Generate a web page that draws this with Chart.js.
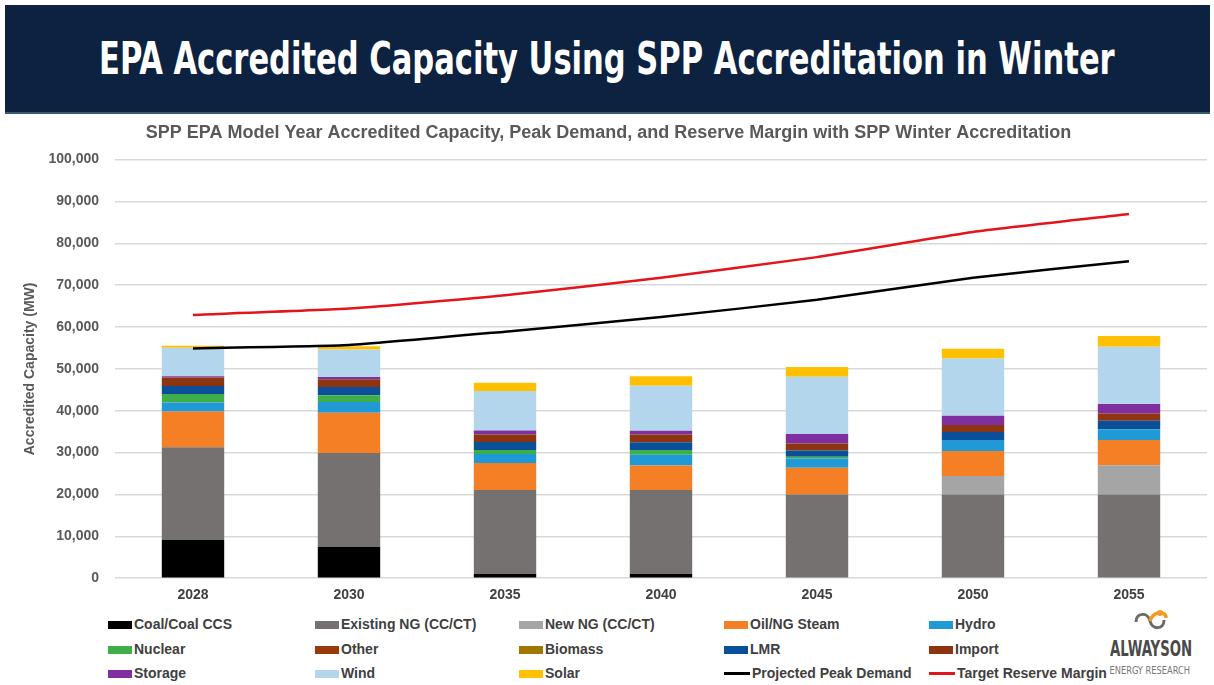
<!DOCTYPE html>
<html lang="en">
<head>
  <meta charset="UTF-8">
  <title>EPA Accredited Capacity Using SPP Accreditation in Winter</title>
  <script src="https://cdn.jsdelivr.net/npm/chart.js"></script>
  <style>
    body {
      margin: 0;
      width: 1214px;
      height: 685px;
      background: white;
      font-family: "Liberation Sans", Arial, sans-serif;
      position: relative;
      overflow: hidden;
    }
    .banner {
      position: absolute;
      left: 5px;
      top: 5px;
      width: 1205px;
      height: 107px;
      background-color: #0c2240;
      border-bottom: 2px solid #3c5a6e;
    }
    .banner h1 {
      position: absolute;
      left: 0;
      top: 0;
      margin: 0;
      white-space: nowrap;
      color: white;
      font-family: "Liberation Sans Narrow", "DejaVu Sans Condensed", "Arial Narrow", sans-serif;
      font-weight: bold;
      font-size: 45px;
      line-height: 107px;
      transform-origin: 0 50%;
    }
    .chart-box {
      position: absolute;
      left: 0;
      top: 113px;
      width: 1214px;
      height: 492px;
    }
    #legend {
      position: absolute;
      left: 0;
      top: 612px;
      width: 1100px;
      height: 73px;
    }
    .item {
      position: absolute;
      height: 20px;
      line-height: 20px;
      font-size: 14px;
      font-weight: bold;
      color: #404040;
      white-space: nowrap;
    }
    .item .sw {
      display: inline-block;
      width: 24px;
      height: 8px;
      margin-right: 2px;
      vertical-align: 0px;
    }
    .item .ln {
      display: inline-block;
      width: 26px;
      height: 3px;
      margin-right: 2px;
      vertical-align: 3px;
    }
    .logo {
      position: absolute;
      left: 1090px;
      top: 608px;
      width: 120px;
      text-align: center;
    }
    .logo .name, .logo .sub {
      font-family: "Liberation Sans Narrow", "DejaVu Sans Condensed", sans-serif;
      white-space: nowrap;
      display: inline-block;
      transform-origin: 50% 50%;
    }
    .logo .name {
      font-weight: bold;
      font-size: 22px;
      color: #4a4a4a;
      line-height: 22px;
    }
    .logo .sub {
      font-size: 10px;
      color: #777;
      line-height: 11px;
    }
  </style>
</head>
<body>
  <div class="banner"><h1 id="mainTitle">EPA Accredited Capacity Using SPP Accreditation in Winter</h1></div>
  <div class="chart-box"><canvas id="capChart"></canvas></div>
  <div id="legend"></div>
  <div class="logo">
    <svg width="40" height="26" viewBox="0 0 40 26">
      <path d="M6 14 C6 4, 18 4, 20 13 C22 22, 34 22, 34 12" fill="none" stroke="#6b6b6b" stroke-width="3"/>
      <path d="M20 13 C23 3, 36 2, 36 10" fill="none" stroke="#f39c1f" stroke-width="3.5"/>
      <circle cx="30" cy="5" r="3" fill="#f39c1f"/>
    </svg>
    <div><span class="name" id="logoName">ALWAYSON</span></div>
    <div><span class="sub" id="logoSub">ENERGY RESEARCH</span></div>
  </div>
  <script>
    // model years and values (MW)
    const years = ['2028', '2030', '2035', '2040', '2045', '2050', '2055'];

    const coal = [9200, 7500, 1000, 1000, 0, 0, 0];
    const existingNG = [22100, 22400, 20100, 20100, 20000, 20000, 20000];
    const newNG = [0, 0, 0, 0, 0, 4400, 7000];
    const oilSteam = [8500, 9600, 6400, 5800, 6400, 6000, 6000];
    const hydro = [2200, 2600, 2200, 2600, 2200, 2600, 2600];
    const nuclear = [2000, 1600, 950, 1100, 400, 0, 0];
    const other = [0, 0, 0, 0, 0, 0, 0];
    const biomass = [0, 0, 0, 0, 0, 0, 0];
    const lmr = [1900, 2000, 1900, 1900, 1500, 1900, 2000];
    const imports = [2050, 1800, 1800, 1800, 1700, 1700, 1750];
    const storage = [300, 550, 950, 950, 2250, 2200, 2250];
    const wind = [6800, 6600, 9400, 10700, 13700, 13700, 13700];
    const solar = [500, 750, 2000, 2300, 2300, 2300, 2550];

    const peakDemand = [54900, 55700, 58900, 62400, 66500, 71800, 75700];
    const reserveMargin = [62900, 64400, 67600, 71800, 76700, 82700, 87000];

    const yTicks = [0, 10000, 20000, 30000, 40000, 50000, 60000, 70000, 80000, 90000, 100000];

    function bar(label, data, color) {
      return { type: 'bar', label: label, data: data, backgroundColor: color, stack: 'cap', order: 2,
               barPercentage: 0.4, categoryPercentage: 1.0 };
    }
    function line(label, data, color, stackName) {
      return { type: 'line', label: label, data: data, borderColor: color, backgroundColor: color,
               borderWidth: 2.5, pointRadius: 0, fill: false, tension: 0.15, stack: stackName, order: 0 };
    }

    const datasets = [
      bar('Coal/Coal CCS', coal, '#000000'),
      bar('Existing NG (CC/CT)', existingNG, '#767171'),
      bar('New NG (CC/CT)', newNG, '#a5a5a5'),
      bar('Oil/NG Steam', oilSteam, '#f47f24'),
      bar('Hydro', hydro, '#1f9ad6'),
      bar('Nuclear', nuclear, '#3fae49'),
      bar('Other', other, '#9a3a0c'),
      bar('Biomass', biomass, '#a07800'),
      bar('LMR', lmr, '#0a4f98'),
      bar('Import', imports, '#8c3510'),
      bar('Storage', storage, '#7f2fa0'),
      bar('Wind', wind, '#b4d6ec'),
      bar('Solar', solar, '#ffc000'),
      line('Projected Peak Demand', peakDemand, '#000000', 'peak'),
      line('Target Reserve Margin', reserveMargin, '#e5141b', 'margin')
    ];

    const capChart = new Chart(document.getElementById('capChart'), {
      type: 'bar',
      data: { labels: years, datasets: datasets },
      options: {
        responsive: true,
        maintainAspectRatio: false,
        animation: false,
        layout: { padding: { left: 0, right: 7, top: 0, bottom: 0 } },
        plugins: {
          legend: { display: false },
          tooltip: { enabled: false },
          title: {
            display: true,
            text: '  SPP EPA Model Year Accredited Capacity, Peak Demand, and Reserve Margin with SPP Winter Accreditation',
            color: '#595959',
            font: { family: '"Liberation Sans", Arial, sans-serif', size: 18, weight: 'bold' },
            padding: { top: 9, bottom: 16 }
          }
        },
        scales: {
          x: {
            stacked: true,
            grid: { display: false },
            border: { display: false },
            ticks: { color: '#404040', font: { size: 14, weight: 'bold' }, padding: 1 }
          },
          y: {
            stacked: true,
            min: 0,
            max: 100000,
            afterBuildTicks: (scale) => { scale.ticks = yTicks.map(v => ({ value: v })); },
            afterFit: (scale) => { scale.width = 115; },
            grid: { color: '#d9d9d9', drawTicks: false, lineWidth: 1.5 },
            border: { display: false },
            ticks: {
              color: '#595959',
              font: { size: 14, weight: 'bold' },
              padding: 16,
              callback: (v) => v.toLocaleString('en-US')
            },
            title: {
              display: true,
              text: 'Accredited Capacity (MW)',
              color: '#595959',
              font: { size: 14, weight: 'bold' },
              padding: { top: 22, bottom: 4 }
            }
          }
        }
      }
    });

    // HTML legend in a 5-column grid, built from the chart's datasets
    const legendCols = [108, 315, 519, 724, 929];
    const legendRows = [2, 27, 51];
    const legendBox = document.getElementById('legend');
    capChart.data.datasets.forEach((ds, i) => {
      const item = document.createElement('div');
      item.className = 'item';
      item.style.left = legendCols[i % 5] + 'px';
      item.style.top = legendRows[Math.floor(i / 5)] + 'px';
      const mark = document.createElement('span');
      if (ds.type === 'line') {
        mark.className = 'ln';
        mark.style.backgroundColor = ds.borderColor;
      } else {
        mark.className = 'sw';
        mark.style.backgroundColor = ds.backgroundColor;
      }
      item.appendChild(mark);
      item.appendChild(document.createTextNode(ds.label));
      legendBox.appendChild(item);
    });

    // squeeze the banner title to the reference width
    const h1 = document.getElementById('mainTitle');
    const sx = 1016 / h1.scrollWidth;
    h1.style.transform = 'translateX(94px) scaleX(' + sx + ')';

    // squeeze the logo words to fit their box
    const logoName = document.getElementById('logoName');
    logoName.style.transform = 'scaleX(' + (82 / logoName.offsetWidth) + ')';
    const logoSub = document.getElementById('logoSub');
    logoSub.style.transform = 'scaleX(' + (80 / logoSub.offsetWidth) + ')';
  </script>
</body>
</html>
